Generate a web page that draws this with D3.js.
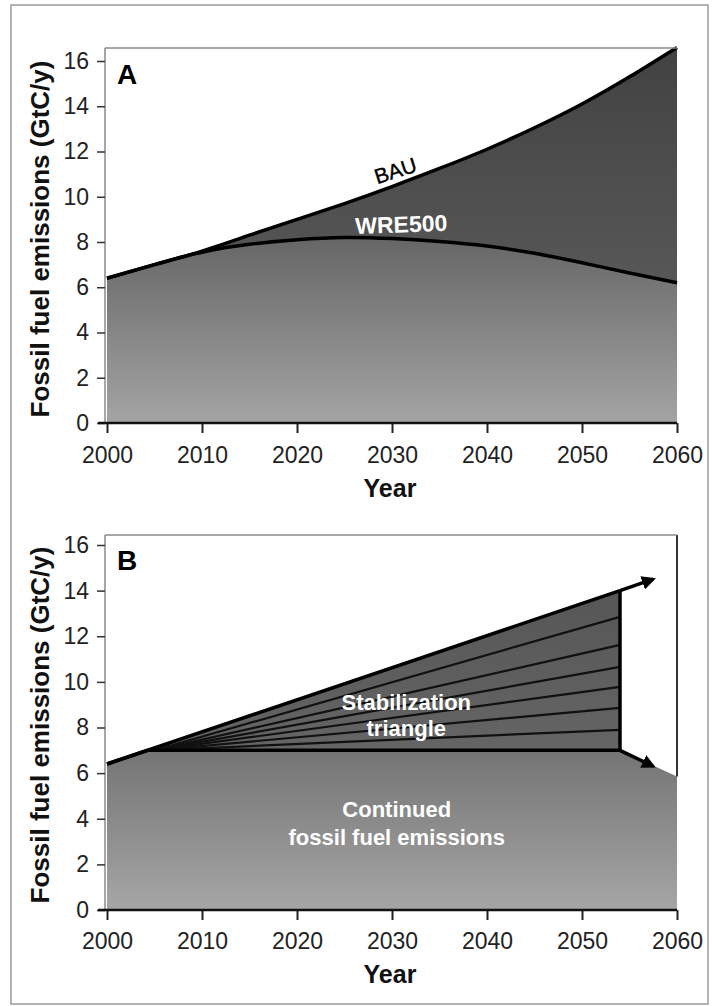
<!DOCTYPE html>
<html>
<head>
<meta charset="utf-8">
<script src="https://cdn.jsdelivr.net/npm/d3@7"></script>
<style>
  html, body { margin: 0; padding: 0; background: #ffffff; }
  svg { display: block; }
  text { font-family: "Liberation Sans", Arial, Helvetica, sans-serif; }
</style>
</head>
<body>
<svg id="chart" width="712" height="1006"></svg>
<script>
// ---------- DATA ----------
const years = [2000, 2005, 2010, 2015, 2020, 2025, 2030, 2035, 2040, 2045, 2050, 2055, 2060];
const bauValues = [6.4, 7.0, 7.6, 8.3, 9.0, 9.7, 10.45, 11.25, 12.1, 13.05, 14.1, 15.3, 16.6];
const wre500Values = [6.4, 7.0, 7.55, 7.9, 8.1, 8.2, 8.15, 8.02, 7.82, 7.5, 7.08, 6.63, 6.2];

// Panel B
const flatYears = [2000, 2004.3, 2054, 2060];
const flatValues = [6.4, 7.0, 7.0, 5.85];
const triangleYears = [2000, 2054];
const triangleValues = [6.4, 14.0];
const topArrowYears = [2054, 2057.5];
const topArrowValues = [14.0, 14.5];
const bottomArrowYears = [2054, 2057.5];
const bottomArrowValues = [7.0, 6.3];
const wedgeApexYear = 2005;
const wedgeApexValue = 7.0;
const wedgeEndYear = 2054;
const wedgeEndValues = [7.9, 8.86, 9.78, 10.66, 11.62, 12.85];

const yTicks = [0, 2, 4, 6, 8, 10, 12, 14, 16];
const xTicks = [2000, 2010, 2020, 2030, 2040, 2050, 2060];
const yTitle = "Fossil fuel emissions (GtC/y)";
const xTitle = "Year";

// ---------- SETUP ----------
const svg = d3.select("#chart");
const defs = svg.append("defs");

function grad(id, top, bottom) {
  const g = defs.append("linearGradient").attr("id", id)
    .attr("x1", 0).attr("y1", 0).attr("x2", 0).attr("y2", 1);
  g.append("stop").attr("offset", "0%").attr("stop-color", top);
  g.append("stop").attr("offset", "100%").attr("stop-color", bottom);
}
grad("lowA", "#666666", "#a4a4a4");
grad("highA", "#424242", "#575757");
grad("lowB", "#747474", "#a6a6a6");
grad("triB", "#565656", "#666666");

const marker = defs.append("marker").attr("id", "arrow")
  .attr("viewBox", "0 0 10 10").attr("refX", 8).attr("refY", 5)
  .attr("markerWidth", 4).attr("markerHeight", 4)
  .attr("orient", "auto");
marker.append("path").attr("d", "M0,0 L10,5 L0,10 Z").attr("fill", "#000");

// outer border
svg.append("rect").attr("x", 11).attr("y", 5).attr("width", 697).attr("height", 999)
  .attr("fill", "none").attr("stroke", "#9a9a9a").attr("stroke-width", 1.5);

const x = d3.scaleLinear().domain([2000, 2060]).range([107, 677]);

function drawAxes(y, frameTop, yTitleCenter, tickLabelBaseline, letter, letterY) {
  const g = svg.append("g");
  g.append("line").attr("x1", 105).attr("x2", 105).attr("y1", frameTop).attr("y2", y(0))
    .attr("stroke", "#8a8a8a").attr("stroke-width", 1.5);
  g.append("line").attr("x1", 105).attr("x2", 677).attr("y1", frameTop).attr("y2", frameTop)
    .attr("stroke", "#8a8a8a").attr("stroke-width", 1.5);

  const yAxis = d3.axisLeft(y).tickValues(yTicks).tickSize(8).tickPadding(8);
  const ya = g.append("g").attr("transform", "translate(105,0)").call(yAxis);
  ya.select(".domain").remove();
  ya.selectAll(".tick line").attr("stroke", "#333").attr("stroke-width", 1.5);
  ya.selectAll(".tick text").attr("font-size", 23).attr("fill", "#222")
    .attr("font-family", "Liberation Sans, Arial, sans-serif");

  const xAxis = d3.axisBottom(x).tickValues(xTicks).tickFormat(d3.format("d")).tickSize(10).tickPadding(6);
  const xa = g.append("g").attr("transform", `translate(0,${y(0)})`).call(xAxis);
  xa.select(".domain").remove();
  xa.selectAll(".tick line").attr("stroke", "#222").attr("stroke-width", 2);
  xa.selectAll(".tick text").attr("font-size", 23).attr("fill", "#222")
    .attr("font-family", "Liberation Sans, Arial, sans-serif")
    .attr("dy", null).attr("y", tickLabelBaseline - y(0));
  g.append("line").attr("x1", 98).attr("x2", 677).attr("y1", y(0)).attr("y2", y(0))
    .attr("stroke", "#111").attr("stroke-width", 2.5);

  g.append("text").attr("transform", `translate(49,${yTitleCenter}) rotate(-90)`)
    .attr("text-anchor", "middle").attr("font-size", 26).attr("font-weight", "bold")
    .attr("fill", "#111").text(yTitle);
  g.append("text").attr("x", 390).attr("y", tickLabelBaseline + 34)
    .attr("text-anchor", "middle").attr("font-size", 25).attr("font-weight", "bold")
    .attr("fill", "#111").text(xTitle);
  g.append("text").attr("x", 117).attr("y", letterY)
    .attr("font-size", 28).attr("font-weight", "bold").attr("fill", "#000").text(letter);
}

// ---------- PANEL A ----------
const yA = d3.scaleLinear().domain([0, 16]).range([423, 61]);
const bau = years.map((yr, i) => ({ yr, v: bauValues[i] }));
const wre = years.map((yr, i) => ({ yr, v: wre500Values[i] }));
const curve = d3.curveNatural;

const gA = svg.append("g");
gA.append("path").datum(years.map((yr, i) => ({ yr, lo: wre500Values[i], hi: bauValues[i] })))
  .attr("d", d3.area().x(d => x(d.yr)).y0(d => yA(d.lo)).y1(d => yA(d.hi)).curve(curve))
  .attr("fill", "url(#highA)");
gA.append("path").datum(wre)
  .attr("d", d3.area().x(d => x(d.yr)).y0(yA(0)).y1(d => yA(d.v)).curve(curve))
  .attr("fill", "url(#lowA)");
gA.append("path").datum(bau)
  .attr("d", d3.line().x(d => x(d.yr)).y(d => yA(d.v)).curve(curve))
  .attr("fill", "none").attr("stroke", "#000").attr("stroke-width", 3.5);
gA.append("path").datum(wre)
  .attr("d", d3.line().x(d => x(d.yr)).y(d => yA(d.v)).curve(curve))
  .attr("fill", "none").attr("stroke", "#000").attr("stroke-width", 3.5);

gA.append("text").attr("transform", `translate(${x(2030.6)},${yA(10.4) - 10}) rotate(-18)`)
  .attr("text-anchor", "middle").attr("font-size", 21).attr("fill", "#000")
  .attr("stroke", "#000").attr("stroke-width", 0.4).text("BAU");
gA.append("text").attr("transform", `translate(${x(2031)},${yA(8.2) - 5}) rotate(-2)`)
  .attr("text-anchor", "middle").attr("font-size", 23).attr("font-weight", "bold")
  .attr("fill", "#fff").text("WRE500");

drawAxes(yA, 48, 239, 463, "A", 84);

// ---------- PANEL B ----------
const yB = d3.scaleLinear().domain([0, 16]).range([910, 545]);
const gB = svg.append("g");
const flat = flatYears.map((yr, i) => ({ yr, v: flatValues[i] }));
const tri = triangleYears.map((yr, i) => ({ yr, v: triangleValues[i] }));
const lineB = d3.line().x(d => x(d.yr)).y(d => yB(d.v));

const triPoly = [tri[0], tri[1], { yr: flatYears[2], v: flatValues[2] }, { yr: flatYears[1], v: flatValues[1] }];
gB.append("path").attr("d", lineB(triPoly) + "Z").attr("fill", "url(#triB)");
gB.append("path").datum(flat)
  .attr("d", d3.area().x(d => x(d.yr)).y0(yB(0)).y1(d => yB(d.v)))
  .attr("fill", "url(#lowB)");

wedgeEndValues.forEach(v => {
  gB.append("path").attr("d", lineB([{ yr: wedgeApexYear, v: wedgeApexValue }, { yr: wedgeEndYear, v }]))
    .attr("stroke", "#111").attr("stroke-width", 2.2).attr("fill", "none");
});
gB.append("path").attr("d", lineB(flat.slice(0, 3)))
  .attr("stroke", "#000").attr("stroke-width", 3.5).attr("fill", "none");
gB.append("path").attr("d", lineB(tri))
  .attr("stroke", "#000").attr("stroke-width", 3.5).attr("fill", "none");
gB.append("path").attr("d", lineB([{ yr: wedgeEndYear, v: flatValues[2] }, { yr: wedgeEndYear, v: triangleValues[1] }]))
  .attr("stroke", "#000").attr("stroke-width", 3.5).attr("fill", "none");
gB.append("path").attr("d", lineB(topArrowYears.map((yr, i) => ({ yr, v: topArrowValues[i] }))))
  .attr("stroke", "#000").attr("stroke-width", 3.5).attr("fill", "none").attr("marker-end", "url(#arrow)");
gB.append("path").attr("d", lineB(bottomArrowYears.map((yr, i) => ({ yr, v: bottomArrowValues[i] }))))
  .attr("stroke", "#000").attr("stroke-width", 3.5).attr("fill", "none").attr("marker-end", "url(#arrow)");
gB.append("line").attr("x1", 677).attr("x2", 677).attr("y1", 535).attr("y2", yB(flatValues[3]))
  .attr("stroke", "#333").attr("stroke-width", 2);

const labB = [
  { t: "Stabilization", x: 2031.5, y: 710 },
  { t: "triangle", x: 2031.5, y: 736 },
  { t: "Continued", x: 2030.5, y: 817 },
  { t: "fossil fuel emissions", x: 2030.5, y: 845 }
];
gB.selectAll("text.lab").data(labB).enter().append("text").attr("class", "lab")
  .attr("x", d => x(d.x)).attr("y", d => d.y).attr("text-anchor", "middle")
  .attr("font-size", 22).attr("font-weight", "bold").attr("fill", "#fff").text(d => d.t);

drawAxes(yB, 535, 725, 949, "B", 570);
</script>
</body>
</html>
